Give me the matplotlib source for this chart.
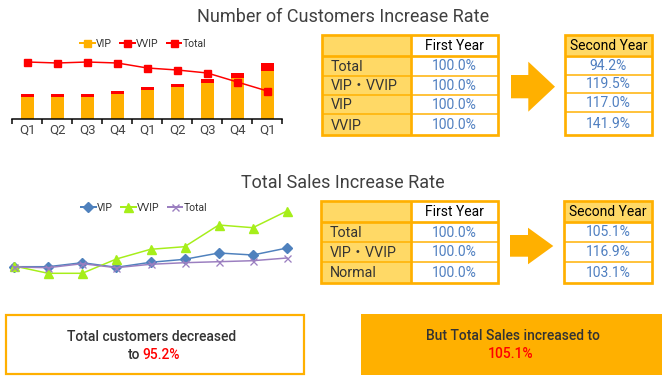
import matplotlib
matplotlib.use("Agg")
import matplotlib.pyplot as plt
from matplotlib.lines import Line2D
from matplotlib.patches import Polygon, Rectangle

plt.rcParams["font.family"] = ["Roboto", "Noto Sans CJK JP", "DejaVu Sans"]

# ---- data -------------------------------------------------------------
quarters = ["Q1", "Q2", "Q3", "Q4", "Q1", "Q2", "Q3", "Q4", "Q1"]

vip_customers = [22, 22, 22, 25, 29, 32, 36, 41, 48]
vvip_customers = [3, 3, 3, 3, 3, 3, 4, 5, 8]
total_customers = [57, 56, 57, 56, 51, 49, 46, 37, 28]

# sales index (first quarter ~ 100)
vip_sales = [100, 100, 104, 99.4, 104.4, 107.4, 113.7, 111.7, 118.7]
vvip_sales = [100.7, 93.4, 93.4, 107.7, 117.4, 120, 141.7, 139, 155.7]
total_sales = [99.7, 99, 103, 99, 102.4, 104, 105, 106, 108.7]

customer_rows = ["Total", "VIP・VVIP", "VIP", "VVIP"]
customer_first = ["100.0%", "100.0%", "100.0%", "100.0%"]
customer_second = ["94.2%", "119.5%", "117.0%", "141.9%"]

sales_rows = ["Total", "VIP・VVIP", "Normal"]
sales_first = ["100.0%", "100.0%", "100.0%"]
sales_second = ["105.1%", "116.9%", "103.1%"]

ORANGE = "#FFB000"
LIGHT = "#FFD966"
VALUE_BLUE = "#4F7FC0"
TEXT = "#333333"
RED = "#FF0000"

W, H = 666, 382
fig = plt.figure(figsize=(W / 100, H / 100), dpi=100)

# full-figure canvas in pixel coordinates for the tables, arrows and boxes
canvas = fig.add_axes([0, 0, 1, 1])
canvas.set_xlim(0, W)
canvas.set_ylim(H, 0)
canvas.axis("off")


def px_axes(left, top, right, bottom):
    return fig.add_axes([left / W, 1 - bottom / H, (right - left) / W, (bottom - top) / H])


def px(v):
    return v * 0.72  # pixel -> point


# ---- titles -----------------------------------------------------------
canvas.text(343, 17, "Number of Customers Increase Rate", fontsize=13,
            color="#404040", ha="center", va="center")
canvas.text(343, 183, "Total Sales Increase Rate", fontsize=13,
            color="#404040", ha="center", va="center")

# ---- customers chart ----------------------------------------------------
ax1 = px_axes(12.3, 55, 282.3, 119)
x = range(len(quarters))
ax1.bar(x, vip_customers, width=0.43, color=ORANGE)
ax1.bar(x, vvip_customers, width=0.43, bottom=vip_customers, color=RED)
ax1.plot(x, total_customers, color=RED, lw=px(1.5), marker="s", markersize=px(7),
         clip_on=False)
ax1.set_xlim(-0.5, len(quarters) - 0.5)
ax1.set_ylim(0, 64)
for side in ["top", "right", "left"]:
    ax1.spines[side].set_visible(False)
ax1.spines["bottom"].set_linewidth(px(1.5))
ax1.set_yticks([])
ax1.set_xticks(list(x))
ax1.set_xticklabels(quarters, fontsize=9.5, color="#444444")
ax1.set_xticks([i - 0.5 for i in range(len(quarters) + 1)], minor=True)
ax1.tick_params(axis="x", which="major", length=0, pad=3.5)
ax1.tick_params(axis="x", which="minor", length=px(4.5), width=px(1.5), color="black")

legend1 = [
    Line2D([], [], color=ORANGE, marker="s", markersize=px(7), lw=px(2)),
    Line2D([], [], color=RED, marker="s", markersize=px(7), lw=px(2)),
    Line2D([], [], color=RED, marker="s", markersize=px(7), lw=px(2)),
]
fig.legend(legend1, ["VIP", "VVIP", "Total"], loc="center",
           bbox_to_anchor=(143 / W, 1 - 44 / H), ncol=3, frameon=False,
           fontsize=7.5, handlelength=1.4, handletextpad=0.1, columnspacing=0.8,
           labelcolor="#333333")

# ---- sales chart --------------------------------------------------------
ax2 = px_axes(14, 205, 287, 280)
ax2.plot(x, vip_sales, color="#4F81BD", lw=px(1.5), marker="D", markersize=px(6.5),
         clip_on=False)
ax2.plot(x, vvip_sales, color="#A6EE1A", lw=px(1.5), marker="^", markersize=px(9),
         clip_on=False)
ax2.plot(x, total_sales, color="#9B7FC0", lw=px(1.5), marker="x", markersize=px(7),
         markeredgewidth=px(1.3), clip_on=False)
ax2.set_xlim(0, 8)
ax2.set_ylim(86.7, 161.7)
ax2.axis("off")

legend2 = [
    Line2D([], [], color="#4F81BD", marker="D", markersize=px(6.5), lw=px(2)),
    Line2D([], [], color="#A6EE1A", marker="^", markersize=px(9), lw=px(2)),
    Line2D([], [], color="#9B7FC0", marker="x", markersize=px(7), lw=px(2)),
]
fig.legend(legend2, ["VIP", "VVIP", "Total"], loc="center",
           bbox_to_anchor=(144 / W, 1 - 208 / H), ncol=3, frameon=False,
           fontsize=7.5, handlelength=1.4, handletextpad=0.1, columnspacing=0.8,
           labelcolor="#333333")


# ---- tables -----------------------------------------------------------
def draw_table(left, right, top, header_bottom, row_lines, bottom,
               labels, values, divider=None, header_text="", header_fill=None):
    edges = [header_bottom] + row_lines + [bottom]
    if divider is not None:
        canvas.add_patch(Rectangle((left, top), divider - left, bottom - top,
                                   facecolor=LIGHT, edgecolor="none"))
    if header_fill:
        canvas.add_patch(Rectangle((left, top), right - left, header_bottom - top,
                                   facecolor=header_fill, edgecolor="none"))
    # thin row lines
    for y in row_lines:
        canvas.plot([left, right], [y, y], color=ORANGE, lw=px(1.5),
                    solid_capstyle="butt")
    # thick header line, divider and outer frame
    canvas.plot([left, right], [header_bottom, header_bottom], color=ORANGE,
                lw=px(2.7), solid_capstyle="butt")
    if divider is not None:
        canvas.plot([divider, divider], [top, bottom], color=ORANGE, lw=px(2.7),
                    solid_capstyle="butt")
    canvas.add_patch(Rectangle((left, top), right - left, bottom - top,
                               facecolor="none", edgecolor=ORANGE, lw=px(2.7)))
    value_left = divider if divider is not None else left
    value_x = (value_left + right) / 2
    canvas.text(value_x, (top + header_bottom) / 2 + 1, header_text, fontsize=10,
                color="black", ha="center", va="center")
    for i, value in enumerate(values):
        yc = (edges[i] + edges[i + 1]) / 2 + 0.5
        canvas.text(value_x, yc, value, fontsize=10, color=VALUE_BLUE,
                    ha="center", va="center")
        if labels:
            canvas.text(left + 9, yc + 0.5, labels[i], fontsize=10.3, color=TEXT,
                        ha="left", va="center")


def draw_arrow(x0, xh, xt, shaft_top, shaft_bottom, head_top, head_bottom):
    yc = (head_top + head_bottom) / 2
    pts = [(x0, shaft_top), (xh, shaft_top), (xh, head_top), (xt, yc),
           (xh, head_bottom), (xh, shaft_bottom), (x0, shaft_bottom)]
    canvas.add_patch(Polygon(pts, closed=True, facecolor=ORANGE, edgecolor="none"))


draw_table(321.7, 498, 34.7, 55.7, [76.3, 94.7, 114], 135.3,
           customer_rows, customer_first, divider=410.7, header_text="First Year")
draw_table(565, 652, 34.7, 55.5, [74.5, 93.3, 112], 135,
           None, customer_second, header_text="Second Year", header_fill=LIGHT)
draw_arrow(511, 528.3, 555, 75, 98.3, 61.7, 111.7)

draw_table(321, 498, 200.7, 222.3, [242.3, 261.7], 282.7,
           sales_rows, sales_first, divider=410.7, header_text="First Year")
draw_table(564, 652, 200.5, 221.7, [241.7, 261.7], 283.3,
           None, sales_second, header_text="Second Year", header_fill=LIGHT)
draw_arrow(510, 528, 553.3, 235, 256.7, 227.7, 264.3)

# ---- summary boxes ------------------------------------------------------
canvas.add_patch(Rectangle((5.7, 315), 298.3, 59, facecolor="white",
                           edgecolor=ORANGE, lw=px(2.2)))
canvas.text(152, 337, "Total customers decreased", fontsize=10, fontweight="medium",
            color=TEXT, ha="center", va="center")
canvas.text(140, 355, "to", fontsize=10, fontweight="medium", color=TEXT,
            ha="right", va="center")
canvas.text(142.7, 355, "95.2%", fontsize=10, fontweight="medium", color=RED,
            ha="left", va="center")

canvas.add_patch(Rectangle((361, 314), 301, 61, facecolor=ORANGE, edgecolor="none"))
canvas.text(512.7, 336.5, "But Total Sales increased to", fontsize=10,
            fontweight="medium", color=TEXT, ha="center", va="center")
canvas.text(511, 354.5, "105.1%", fontsize=10, fontweight="medium", color=RED,
            ha="center", va="center")

fig.savefig("out.png", dpi=100)
